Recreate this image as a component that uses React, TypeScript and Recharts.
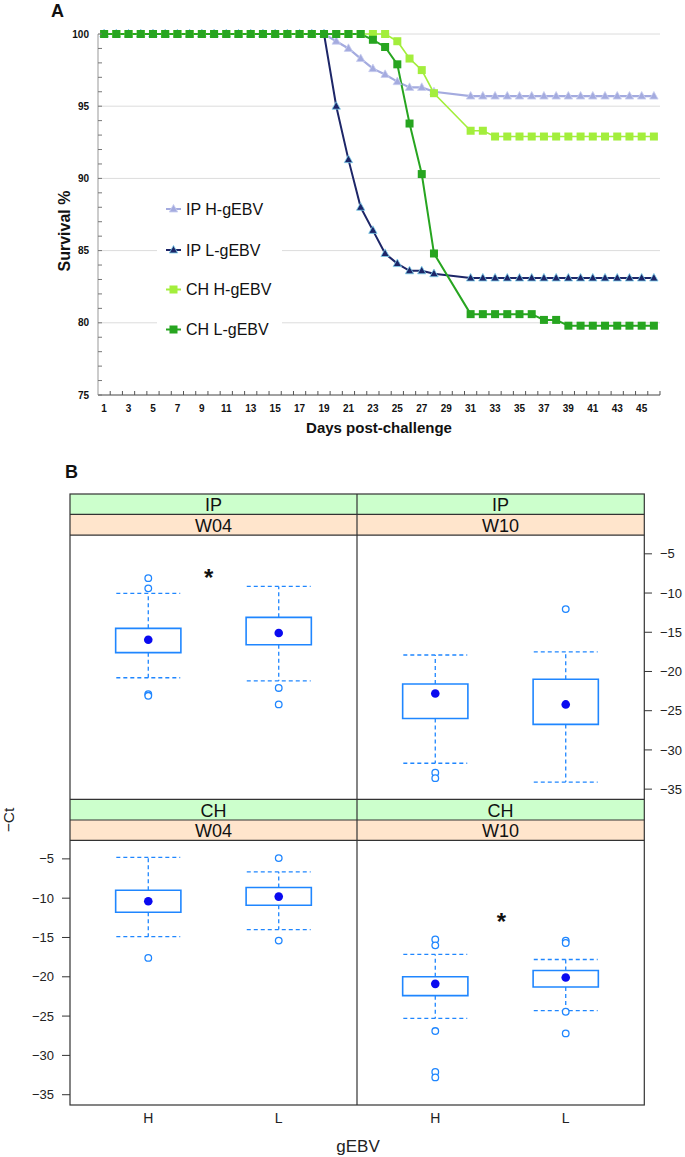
import React from "react";
import {
  LineChart,
  Line,
  XAxis,
  YAxis,
  ReferenceLine,
  ReferenceArea,
  ComposedChart,
  Scatter,
} from "recharts";

// ---------- Panel A: survival ----------
const days = [
  1, 2, 3, 4, 5, 6, 7, 8, 9, 10, 11, 12, 13, 14, 15, 16, 17, 18, 19, 20, 21, 22, 23,
  24, 25, 26, 27, 28, 29, 30, 31, 32, 33, 34, 35, 36, 37, 38, 39, 40, 41, 42, 43, 44,
  45, 46,
];
const ipHigh = [
  100, 100, 100, 100, 100, 100, 100, 100, 100, 100, 100, 100, 100, 100, 100, 100, 100,
  100, 100, 99.5, 99.0, 98.3, 97.6, 97.2, 96.7, 96.3, 96.3, 96.0, null, null, 95.7,
  95.7, 95.7, 95.7, 95.7, 95.7, 95.7, 95.7, 95.7, 95.7, 95.7, 95.7, 95.7, 95.7, 95.7,
  95.7,
];
const ipLow = [
  100, 100, 100, 100, 100, 100, 100, 100, 100, 100, 100, 100, 100, 100, 100, 100, 100,
  100, 100, 95.0, 91.3, 88.0, 86.4, 84.8, 84.1, 83.6, 83.6, 83.4, null, null, 83.1,
  83.1, 83.1, 83.1, 83.1, 83.1, 83.1, 83.1, 83.1, 83.1, 83.1, 83.1, 83.1, 83.1, 83.1,
  83.1,
];
const chHigh = [
  100, 100, 100, 100, 100, 100, 100, 100, 100, 100, 100, 100, 100, 100, 100, 100, 100,
  100, 100, 100, 100, 100, 100, 100, 99.5, 98.3, 97.5, 95.9, null, null, 93.3, 93.3,
  92.9, 92.9, 92.9, 92.9, 92.9, 92.9, 92.9, 92.9, 92.9, 92.9, 92.9, 92.9, 92.9, 92.9,
];
const chLow = [
  100, 100, 100, 100, 100, 100, 100, 100, 100, 100, 100, 100, 100, 100, 100, 100, 100,
  100, 100, 100, 100, 100, 99.6, 99.1, 97.9, 93.8, 90.3, 84.8, null, null, 80.6, 80.6,
  80.6, 80.6, 80.6, 80.6, 80.2, 80.2, 79.8, 79.8, 79.8, 79.8, 79.8, 79.8, 79.8, 79.8,
];
const survTicks = [
  75, 76, 77, 78, 79, 80, 81, 82, 83, 84, 85, 86, 87, 88, 89, 90, 91, 92, 93, 94, 95,
  96, 97, 98, 99, 100,
];
const gridLevels = [80, 85, 90, 95, 100];
const legendNames = ["IP H-gEBV", "IP L-gEBV", "CH H-gEBV", "CH L-gEBV"];

const survivalData = days.map((d, i) => ({
  day: d,
  ipHigh: ipHigh[i],
  ipLow: ipLow[i],
  chHigh: chHigh[i],
  chLow: chLow[i],
}));

// ---------- Panel B: -Ct boxplots ----------
const groups = ["H", "L"];
const ctTicks = [-35, -30, -25, -20, -15, -10, -5];
const ipW04 = [
  { lo: -20.8, q1: -17.6, med: -15.95, q3: -14.5, hi: -10.05, out: [-8.1, -9.4, -22.9, -23.1] },
  { lo: -21.2, q1: -16.6, med: -15.1, q3: -13.1, hi: -9.16, out: [-22.1, -24.2] },
];
const ipW10 = [
  { lo: -31.7, q1: -26.0, med: -22.8, q3: -21.6, hi: -17.9, out: [-32.9, -33.6] },
  { lo: -34.1, q1: -26.75, med: -24.2, q3: -21.0, hi: -17.5, out: [-12.05] },
];
const chW04 = [
  { lo: -14.9, q1: -11.8, med: -10.4, q3: -9.0, hi: -4.8, out: [-17.6] },
  { lo: -14.0, q1: -10.9, med: -9.8, q3: -8.65, hi: -6.65, out: [-4.9, -15.4] },
];
const chW10 = [
  { lo: -25.3, q1: -22.4, med: -20.9, q3: -20.0, hi: -17.15, out: [-15.25, -16.0, -26.9, -32.1, -32.8] },
  { lo: -24.3, q1: -21.3, med: -20.1, q3: -19.2, hi: -17.8, out: [-15.4, -15.7, -24.45, -27.2] },
];

const FONT = "'Liberation Sans', Arial, sans-serif";
const BOX = "#1f86ff";
const DOT = "#0a0af0";

const C_IPH = "#a4abdf";
const C_IPL = "#1d2668";
const C_CHH = "#a3ee3c";
const C_CHL = "#27a520";

const Tri = (fill: string, stroke: string) => (p: any) => {
  if (p.cx == null || p.cy == null || p.value == null) return <g key={p.index} />;
  const { cx, cy } = p;
  return (
    <polygon
      key={p.index}
      points={`${cx},${cy - 4.6} ${cx - 4.2},${cy + 3} ${cx + 4.2},${cy + 3}`}
      fill={fill}
      stroke={stroke}
      strokeWidth={0.8}
    />
  );
};

const Sq = (fill: string) => (p: any) => {
  if (p.cx == null || p.cy == null || p.value == null) return <g key={p.index} />;
  return <rect key={p.index} x={p.cx - 4} y={p.cy - 4} width={8} height={8} fill={fill} />;
};

const DayTick = (p: any) => {
  const { x, y, payload } = p;
  const d = payload.value;
  return (
    <g>
      <line x1={x + 6.1} x2={x + 6.1} y1={y} y2={y - 4} stroke="#555" />
      {d % 2 === 1 && (
        <text x={x} y={y + 17} textAnchor="middle" fontSize={10} fontWeight="bold" fontFamily={FONT} fill="#111">
          {d}
        </text>
      )}
    </g>
  );
};

const SurvTick = (p: any) => {
  const { x, y, payload } = p;
  const v = payload.value;
  return (
    <g>
      <line x1={x} x2={x + 4} y1={y} y2={y} stroke="#777" />
      {v % 5 === 0 && (
        <text x={x - 9} y={y + 3.5} textAnchor="end" fontSize={10} fontWeight="bold" fontFamily={FONT} fill="#111">
          {v}
        </text>
      )}
    </g>
  );
};

const fmtCt = (v: number) => (v < 0 ? "\u2212" + Math.abs(v) : String(v));

function BoxPanel(props: {
  stats: typeof ipW04;
  left: number;
  top: number;
  height: number;
  side: "left" | "right";
  showY: boolean;
  showX: boolean;
}) {
  const { stats, left, top, height, side, showY, showX } = props;
  const axW = side === "left" ? 50 : 40;
  const medians = stats.map((s, i) => ({ x: i + 1, y: s.med }));
  const outliers = stats.flatMap((s, i) => s.out.map((v) => ({ x: i + 1, y: v })));
  return (
    <div style={{ position: "absolute", left: side === "left" ? left - axW : left, top }}>
      <ComposedChart
        width={287 + axW}
        height={height + (showX ? 40 : 0)}
        margin={{ top: 0, right: 0, bottom: 0, left: 0 }}
      >
        <XAxis
          type="number"
          dataKey="x"
          domain={[0.4, 2.6]}
          ticks={[1, 2]}
          allowDataOverflow
          hide={!showX}
          height={40}
          axisLine={false}
          tickLine={false}
          tickSize={0}
          tickMargin={8}
          tick={{ fontSize: 14, fill: "#222", fontFamily: FONT }}
          tickFormatter={(v: number) => groups[v - 1]}
        />
        <YAxis
          type="number"
          dataKey="y"
          orientation={side}
          width={axW}
          domain={[-36.27, -2.6]}
          ticks={ctTicks}
          interval={0}
          allowDataOverflow
          axisLine={false}
          tickSize={8}
          tickMargin={8}
          tickLine={{ stroke: "#333" }}
          tick={showY ? { fontSize: 13, fill: "#222", fontFamily: FONT } : false}
          tickFormatter={fmtCt}
        />
        {stats.map((s, i) => (
          <React.Fragment key={i}>
            <ReferenceLine
              segment={[{ x: i + 1, y: s.q3 }, { x: i + 1, y: s.hi }]}
              stroke={BOX}
              strokeWidth={1.3}
              strokeDasharray="4 3"
              ifOverflow="visible"
            />
            <ReferenceLine
              segment={[{ x: i + 1, y: s.q1 }, { x: i + 1, y: s.lo }]}
              stroke={BOX}
              strokeWidth={1.3}
              strokeDasharray="4 3"
              ifOverflow="visible"
            />
            <ReferenceLine
              segment={[{ x: i + 0.755, y: s.hi }, { x: i + 1.245, y: s.hi }]}
              stroke={BOX}
              strokeWidth={1.3}
              strokeDasharray="4 3"
              ifOverflow="visible"
            />
            <ReferenceLine
              segment={[{ x: i + 0.755, y: s.lo }, { x: i + 1.245, y: s.lo }]}
              stroke={BOX}
              strokeWidth={1.3}
              strokeDasharray="4 3"
              ifOverflow="visible"
            />
            <ReferenceArea
              x1={i + 0.75}
              x2={i + 1.25}
              y1={s.q1}
              y2={s.q3}
              fill="#ffffff"
              fillOpacity={0}
              stroke={BOX}
              strokeWidth={1.6}
              ifOverflow="visible"
            />
          </React.Fragment>
        ))}
        <Scatter
          data={outliers}
          isAnimationActive={false}
          shape={(p: any) => (
            <circle cx={p.cx} cy={p.cy} r={3.3} fill="#fff" stroke={BOX} strokeWidth={1.3} />
          )}
        />
        <Scatter
          data={medians}
          isAnimationActive={false}
          shape={(p: any) => <circle cx={p.cx} cy={p.cy} r={4.3} fill={DOT} />}
        />
      </ComposedChart>
    </div>
  );
}

const legendIcons = [
  { color: C_IPH, kind: "tri", fill: C_IPH, stroke: "#c9cef0" },
  { color: C_IPL, kind: "tri", fill: C_IPL, stroke: "#7fd0ee" },
  { color: C_CHH, kind: "sq", fill: C_CHH, stroke: C_CHH },
  { color: C_CHL, kind: "sq", fill: C_CHL, stroke: C_CHL },
];

export default function App() {
  const legendY = [209, 250, 289.5, 329.5];
  const lineStroke = "#333";
  return (
    <div style={{ position: "absolute", left: 0, top: 0, width: 685, height: 1157, overflow: "hidden", background: "#fff" }}>
      <div style={{ position: "absolute", left: 0, top: 0 }}>
        <LineChart
          width={685}
          height={440}
          data={survivalData}
          margin={{ top: 34, right: 25, bottom: 0, left: 0 }}
        >
          {gridLevels.map((g) => (
            <ReferenceLine key={g} y={g} stroke="#dcdcdc" strokeWidth={1} />
          ))}
          <XAxis
            dataKey="day"
            type="number"
            domain={[0.5, 46.5]}
            ticks={days}
            interval={0}
            height={45}
            tickSize={0}
            tickMargin={0}
            axisLine={{ stroke: "#444" }}
            tickLine={false}
            tick={DayTick}
          />
          <YAxis
            type="number"
            domain={[75, 100]}
            ticks={survTicks}
            interval={0}
            width={98}
            tickSize={0}
            tickMargin={0}
            axisLine={{ stroke: "#999" }}
            tickLine={false}
            tick={SurvTick}
          />
          <Line
            dataKey="ipHigh"
            stroke={C_IPH}
            strokeWidth={2.2}
            connectNulls
            isAnimationActive={false}
            dot={Tri(C_IPH, "#c9cef0")}
          />
          <Line
            dataKey="ipLow"
            stroke={C_IPL}
            strokeWidth={2}
            connectNulls
            isAnimationActive={false}
            dot={Tri(C_IPL, "#7fd0ee")}
          />
          <Line
            dataKey="chHigh"
            stroke={C_CHH}
            strokeWidth={1.6}
            connectNulls
            isAnimationActive={false}
            dot={Sq(C_CHH)}
          />
          <Line
            dataKey="chLow"
            stroke={C_CHL}
            strokeWidth={2}
            connectNulls
            isAnimationActive={false}
            dot={Sq(C_CHL)}
          />
        </LineChart>
      </div>

      <BoxPanel stats={ipW04} left={70} top={535.2} height={264.1} side="left" showY={false} showX={false} />
      <BoxPanel stats={ipW10} left={357} top={535.2} height={264.1} side="right" showY={true} showX={false} />
      <BoxPanel stats={chW04} left={70} top={840.3} height={264.7} side="left" showY={true} showX={true} />
      <BoxPanel stats={chW10} left={357} top={840.3} height={264.7} side="right" showY={false} showX={true} />

      <svg
        width={685}
        height={1157}
        style={{ position: "absolute", left: 0, top: 0, pointerEvents: "none" }}
        fontFamily={FONT}
      >
        {/* panel A titles */}
        <text x={51} y={16.5} fontSize={18} fontWeight="bold" fill="#111">A</text>
        <text
          transform="translate(70,231) rotate(-90)"
          textAnchor="middle"
          fontSize={16}
          fontWeight="bold"
          fill="#111"
        >
          Survival %
        </text>
        <text x={379} y={433} textAnchor="middle" fontSize={15} fontWeight="bold" fill="#111">
          Days post-challenge
        </text>

        {/* panel A legend */}
        <rect x={157} y={190} width={125} height={156} fill="#fff" />
        {legendNames.map((name, i) => {
          const y = legendY[i];
          const ic = legendIcons[i];
          return (
            <g key={name}>
              <line x1={166} x2={181} y1={y} y2={y} stroke={ic.color} strokeWidth={2} />
              {ic.kind === "tri" ? (
                <polygon
                  points={`173.5,${y - 4.6} 169.3,${y + 3} 177.7,${y + 3}`}
                  fill={ic.fill}
                  stroke={ic.stroke}
                  strokeWidth={0.8}
                />
              ) : (
                <rect x={169.5} y={y - 4} width={8} height={8} fill={ic.fill} />
              )}
              <text x={186} y={y + 5.8} fontSize={16} fill="#111">
                {name}
              </text>
            </g>
          );
        })}

        {/* panel B */}
        <text x={65} y={478} fontSize={18} fontWeight="bold" fill="#111">B</text>

        <rect x={70} y={494} width={574.3} height={20.3} fill="#ccffcc" />
        <rect x={70} y={514.3} width={574.3} height={20.9} fill="#ffe5cc" />
        <rect x={70} y={799.3} width={574.3} height={20.7} fill="#ccffcc" />
        <rect x={70} y={820} width={574.3} height={20.3} fill="#ffe5cc" />

        <rect x={70} y={494} width={574.3} height={611} fill="none" stroke={lineStroke} strokeWidth={1.2} />
        <line x1={357} x2={357} y1={494} y2={1105} stroke={lineStroke} strokeWidth={1.2} />
        {[514.3, 535.2, 799.3, 820, 840.3].map((yy) => (
          <line key={yy} x1={70} x2={644.3} y1={yy} y2={yy} stroke={lineStroke} strokeWidth={1.2} />
        ))}

        <text x={213.5} y={510.7} textAnchor="middle" fontSize={18} fill="#111">IP</text>
        <text x={500.6} y={510.7} textAnchor="middle" fontSize={18} fill="#111">IP</text>
        <text x={213.5} y={531.7} textAnchor="middle" fontSize={18} fill="#111">W04</text>
        <text x={500.6} y={531.7} textAnchor="middle" fontSize={18} fill="#111">W10</text>
        <text x={213.5} y={816.7} textAnchor="middle" fontSize={18} fill="#111">CH</text>
        <text x={500.6} y={816.7} textAnchor="middle" fontSize={18} fill="#111">CH</text>
        <text x={213.5} y={837.3} textAnchor="middle" fontSize={18} fill="#111">W04</text>
        <text x={500.6} y={837.3} textAnchor="middle" fontSize={18} fill="#111">W10</text>

        <text x={208.6} y={585.5} textAnchor="middle" fontSize={24} fontWeight="bold" fill="#111">*</text>
        <text x={501.3} y={929.5} textAnchor="middle" fontSize={24} fontWeight="bold" fill="#111">*</text>

        <text
          transform="translate(14,820) rotate(-90)"
          textAnchor="middle"
          fontSize={15.5}
          fill="#222"
        >
          {"\u2212Ct"}
        </text>
        <text x={358} y={1151.7} textAnchor="middle" fontSize={17} fill="#222">gEBV</text>
      </svg>
    </div>
  );
}
